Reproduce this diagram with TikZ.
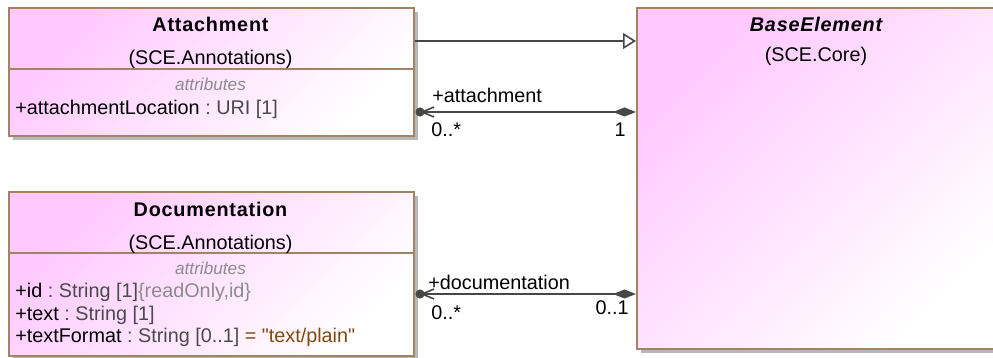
\documentclass[tikz,border=0pt]{standalone}
\usepackage{fontspec}
\setmainfont{Liberation Sans}[Ligatures=TeXOff]
\usetikzlibrary{arrows.meta,shadows}

\definecolor{umlpink}{HTML}{FFC8FF}
\definecolor{umlborder}{HTML}{A08466}
\definecolor{umlline}{HTML}{474747}
\definecolor{umltype}{HTML}{4A4A4A}
\definecolor{umlgray}{HTML}{8C8C8C}
\definecolor{umlbrown}{HTML}{7F4A10}

\begin{document}
\begin{tikzpicture}[x=0.5pt, y=-0.5pt, font=\fontsize{9.9}{12}\selectfont,
	classbox/.style={draw=umlborder, line width=0.9pt, top color=umlpink, bottom color=white, shading angle=45,
		general shadow={fill=black!28, shadow xshift=2pt, shadow yshift=-2pt}, anchor=north west, inner sep=0pt},
	divider/.style={draw=umlborder, line width=0.9pt},
	classname/.style={anchor=base, inner sep=0pt, font=\fontsize{9.9}{12}\selectfont\bfseries\addfontfeature{LetterSpace=4}},
	abstractname/.style={anchor=base, inner sep=0pt, font=\fontsize{9.9}{12}\selectfont\bfseries\itshape\addfontfeature{LetterSpace=4}},
	pkgname/.style={anchor=base, inner sep=0pt},
	attrhead/.style={anchor=base, inner sep=0pt, text=umlgray, font=\fontsize{8.6}{10}\selectfont\itshape},
	attr/.style={anchor=base west, inner sep=0pt},
	assoc/.style={draw=umlline, line width=0.8pt},
	rolelabel/.style={inner sep=0pt}]

		\useasboundingbox ( 0, 0 ) rectangle ( 993, 358 );
		\clip ( 0, 0 ) rectangle ( 993, 358 );

		% класс Attachment
		\node [classbox, minimum width=202.5pt, minimum height=64pt] (attach) at ( 8, 7 ) {};
		\draw [divider] (attach.west |- 0,69) -- (attach.east |- 0,69);
		\node [classname] (attachname) at ( 210.5, 32 ) {Attachment};
		\node [pkgname] (attachpkg) at ( 210.5, 65 ) {(SCE.Annotations)};
		\node [attrhead] (attachhead) at ( 210.5, 90.5 ) {attributes};
		\node [attr] (attachloc) at ( 15, 115 ) {+attachmentLocation \textcolor{umltype}{:\ URI [1]}};

		% класс Documentation
		\node [classbox, minimum width=202.5pt, minimum height=82pt] (doc) at ( 8, 191 ) {};
		\draw [divider] (doc.west |- 0,253) -- (doc.east |- 0,253);
		\node [classname] (docname) at ( 210.5, 217 ) {Documentation};
		\node [pkgname] (docpkg) at ( 210.5, 250 ) {(SCE.Annotations)};
		\node [attrhead] (dochead) at ( 210.5, 274.5 ) {attributes};
		\node [attr] (docid) at ( 15, 298 ) {+id \textcolor{umltype}{:\ String [1]}\textcolor{umlgray}{\{readOnly,id\}}};
		\node [attr] (doctext) at ( 15, 320.5 ) {+text \textcolor{umltype}{:\ String [1]}};
		\node [attr] (docformat) at ( 15, 343 ) {+textFormat \textcolor{umltype}{:\ String [0..1]} \textcolor{umlbrown}{= "text/plain"}};

		% класс BaseElement
		\node [classbox, minimum width=180pt, minimum height=170.5pt] (base) at ( 636, 7 ) {};
		\node [abstractname] (basename) at ( 816, 32 ) {BaseElement};
		\node [pkgname] (basepkg) at ( 816, 62 ) {(SCE.Core)};

		% обобщение
		\draw [assoc, -{Triangle[open, length=6.5pt, width=8pt, fill=white]}] (attach.east |- 0,41) -- (base.west |- 0,41);

		% ассоциация attachment
		\coordinate (attachend) at ( 420, 112 );
		\draw [assoc, {Diamond[length=11.5pt, width=4.5pt]}-{Straight Barb[length=6pt, width=5pt]}] (base.west |- attachend) -- (attachend);
		\fill [umlline] (attachend) circle (2.3pt);
		\node [rolelabel, anchor=base west] (attachrole) at ( 432, 103 ) {+attachment};
		\node [rolelabel, anchor=base west] (attachmany) at ( 431, 137 ) {0..*};
		\node [rolelabel, anchor=base east] (attachone) at ( 626, 137 ) {1};

		% ассоциация documentation
		\coordinate (docend) at ( 420, 294 );
		\draw [assoc, {Diamond[length=11.5pt, width=4.5pt]}-{Straight Barb[length=6pt, width=5pt]}] (base.west |- docend) -- (docend);
		\fill [umlline] (docend) circle (2.3pt);
		\node [rolelabel, anchor=base west] (docrole) at ( 428, 290 ) {+documentation};
		\node [rolelabel, anchor=base west] (docmany) at ( 431, 320 ) {0..*};
		\node [rolelabel, anchor=base east] (docopt) at ( 629, 315 ) {0..1};
	\end{tikzpicture}
\end{document}
